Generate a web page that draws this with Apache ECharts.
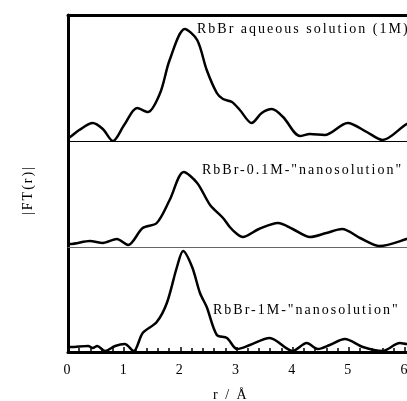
<!DOCTYPE html>
<html>
<head>
<meta charset="utf-8">
<script src="https://cdn.jsdelivr.net/npm/echarts@6/dist/echarts.min.js"></script>
<style>
html,body{margin:0;padding:0;background:#fff;}
#chart{width:407px;height:401px;}
</style>
</head>
<body>
<div id="chart"></div>
<script>
// r (Å) tick labels
const xTickLabels = ['0','1','2','3','4','5','6'];
// |FT(r)| curves, [r, amplitude] (arbitrary units, per panel)
const aqueousCurve = [[0.00,3],[0.04,4],[0.20,11],[0.44,18],[0.62,12],[0.80,0],[1.00,16],[1.23,33],[1.42,29],[1.64,48],[1.81,81],[2.08,112],[2.30,101],[2.47,71],[2.65,48],[2.76,42],[2.92,39],[3.06,31],[3.27,18],[3.45,28],[3.63,32],[3.83,24],[4.13,5],[4.31,7],[4.57,6],[4.98,18],[5.32,9],[5.60,1],[6.03,17],[6.20,20]];
const nano01Curve = [[0.00,3],[0.04,3],[0.39,6],[0.62,4],[0.87,8],[1.07,2],[1.33,19],[1.58,24],[1.81,47],[2.06,75],[2.30,64],[2.53,42],[2.76,29],[2.88,20],[3.01,13],[3.11,10],[3.40,18],[3.74,24],[4.00,18],[4.31,10],[4.60,14],[4.88,18],[5.20,9],[5.55,1],[6.03,8],[6.20,12]];
const nano1Curve = [[0.00,5],[0.04,5],[0.36,6],[0.44,4],[0.52,6],[0.66,1],[0.84,6],[1.01,8],[1.17,1],[1.33,19],[1.58,30],[1.76,49],[1.94,85],[2.05,101],[2.21,85],[2.35,59],[2.47,45],[2.65,17],[2.83,14],[3.01,3],[3.24,7],[3.59,14],[4.00,1],[4.25,9],[4.45,3],[4.66,7],[4.93,13],[5.25,5],[5.60,1],[5.91,9],[6.03,8],[6.20,10]];
const panelLabels = ['RbBr aqueous solution (1M)','RbBr-0.1M-"nanosolution"','RbBr-1M-"nanosolution"'];
const xName = 'r / Å';
const yName = '|FT(r)|';

// widen text tracking like the reference (canvas letterSpacing applied whenever a font is set)
(function(){
  const P = CanvasRenderingContext2D.prototype;
  const d = Object.getOwnPropertyDescriptor(P, 'font');
  if (d && d.set && ('letterSpacing' in P)) {
    Object.defineProperty(P, 'font', {
      configurable:true, enumerable:d.enumerable,
      get(){ return d.get.call(this); },
      set(v){ d.set.call(this, v); try { this.letterSpacing = '2px'; } catch(e){} }
    });
  }
})();

const chart = echarts.init(document.getElementById('chart'), null, {renderer:'canvas'});
const serif = 'Liberation Serif';
const L = 68, W = 348.2, XMAX = 6.2;
const grids = [
  {left:L, width:W, top:15, height:126, outerBoundsMode:'none', containLabel:false},
  {left:L, width:W, top:141, height:106, outerBoundsMode:'none', containLabel:false},
  {left:L, width:W, top:247, height:105, outerBoundsMode:'none', containLabel:false}
];
const yMax = [126,106,105];
const hiddenX = (gi, color, w) => ({
  type:'value', gridIndex:gi, min:0, max:XMAX,
  axisLine:{show:true, onZero:false, lineStyle:{color:color, width:w}},
  axisTick:{show:false}, axisLabel:{show:false}, splitLine:{show:false}
});
const xAxes = [
  hiddenX(0,'#000',1),
  hiddenX(1,'#666',1),
  {
    type:'value', gridIndex:2, min:0, max:XMAX, interval:1,
    axisLine:{show:true, onZero:false, lineStyle:{color:'#000', width:3}},
    axisTick:{show:true, inside:true, length:5, lineStyle:{color:'#000', width:1.5}},
    minorTick:{show:true, splitNumber:5, length:4, lineStyle:{color:'#000', width:1.5}},
    axisLabel:{show:true, margin:10, color:'#000', fontFamily:serif, fontSize:14,
      hideOverlap:false, showMaxLabel:false,
      formatter:(v)=> (Number.isInteger(v) && v <= 6) ? xTickLabels[v] : ''},
    splitLine:{show:false}
  },
  Object.assign(hiddenX(0,'#000',3), {position:'top'})
];
const yAxes = [0,1,2].map(gi => ({
  type:'value', gridIndex:gi, min:0, max:yMax[gi],
  axisLine:{show:true, lineStyle:{color:'#000', width:3}},
  axisTick:{show:false}, axisLabel:{show:false}, splitLine:{show:false}
}));
const curves = [aqueousCurve, nano01Curve, nano1Curve];
const series = curves.map((d, i) => ({
  type:'line', xAxisIndex:i, yAxisIndex:i, data:d, smooth:0.3,
  showSymbol:false, symbol:'none', clip:true,
  lineStyle:{color:'#000', width:2.5}
}));
const labelPos = [[197,29.3],[202,170.3],[213,310.3]];
const graphics = panelLabels.map((t, i) => ({
  type:'text', left:labelPos[i][0], top:labelPos[i][1]-8,
  style:{text:t, fontFamily:serif, fontSize:14, fill:'#000'}
}));
graphics.push({type:'text', left:213, top:387, style:{text:xName, fontFamily:serif, fontSize:14, fill:'#000'}});
graphics.push({type:'text', x:28, y:190, rotation:Math.PI/2,
  style:{text:yName, fontFamily:serif, fontSize:14, fill:'#000', align:'center', verticalAlign:'middle'}});

chart.setOption({
  animation:false,
  backgroundColor:'#fff',
  grid:grids,
  xAxis:xAxes,
  yAxis:yAxes,
  series:series,
  graphic:graphics
});
</script>
</body>
</html>
